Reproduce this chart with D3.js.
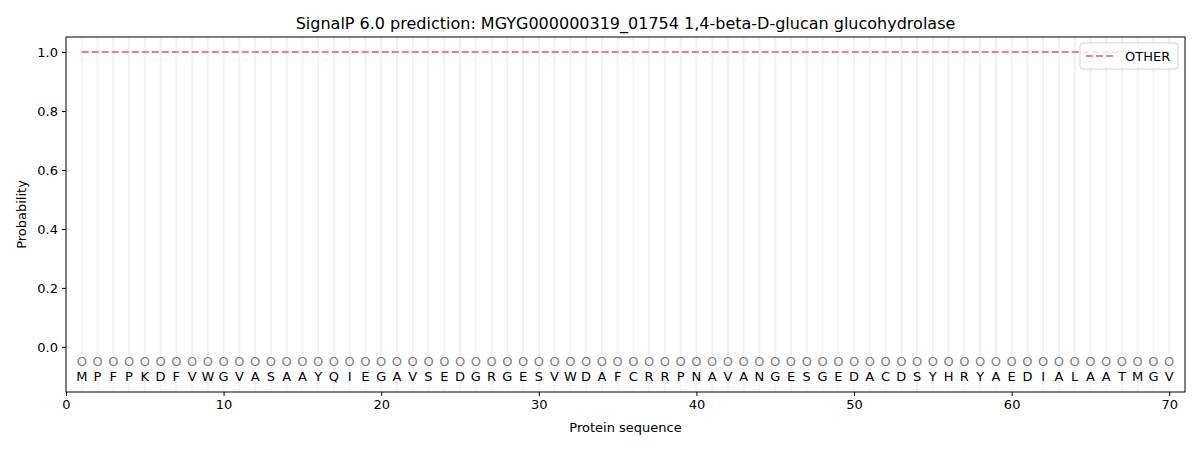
<!DOCTYPE html>
<html>
<head>
<meta charset="utf-8">
<script src="https://cdn.jsdelivr.net/npm/d3@7"></script>
<style>
  html, body { margin: 0; padding: 0; background: #fff; overflow: hidden; }
  svg { display: block; }
  text { font-family: "DejaVu Sans", sans-serif; }
</style>
</head>
<body>
<div id="chart"></div>
<script>
// sequence and per-residue probabilities
var sequence = ['M','P','F','P','K','D','F','V','W','G','V','A','S','A','A','Y','Q','I','E','G',
    'A','V','S','E','D','G','R','G','E','S','V','W','D','A','F','C','R','R','P','N',
    'A','V','A','N','G','E','S','G','E','D','A','C','D','S','Y','H','R','Y','A','E',
    'D','I','A','L','A','A','T','M','G','V']
var labels = sequence.map(function () { return 'O' })
var otherProb = sequence.map(function () { return 1.0 })
var xTicks = [0, 10, 20, 30, 40, 50, 60, 70]
var yTicks = [0.0, 0.2, 0.4, 0.6, 0.8, 1.0]

var width = 1200
var height = 450
var margin = { top: 37, bottom: 58, left: 66, right: 15 }
var innerWidth = width - margin.left - margin.right
var innerHeight = height - margin.top - margin.bottom

var svg = d3.select('#chart').append('svg').attr('width', width).attr('height', height)

var xScale = d3.scaleLinear().domain([0, sequence.length + 1]).range([0, innerWidth])
var yScale = d3.scaleLinear().domain([-0.153, 1.051]).range([innerHeight, 0])

const g = svg.append('g').attr('transform', `translate(${margin.left},${margin.top})`)

// vertical guide lines per residue
g.selectAll('.vline').data(sequence).join('line')
    .attr('class', 'vline')
    .attr('x1', (d, i) => xScale(i + 1)).attr('x2', (d, i) => xScale(i + 1))
    .attr('y1', 0).attr('y2', innerHeight)
    .attr('stroke', '#f2f2f2').attr('stroke-width', 2)

// OTHER line
var line = d3.line().x((d, i) => xScale(i + 1)).y(d => yScale(d))
g.append('path').datum(otherProb)
    .attr('d', line)
    .attr('fill', 'none')
    .attr('stroke', '#f08080')
    .attr('stroke-width', 2)
    .attr('stroke-dasharray', '7,3')

// state labels and residues
g.selectAll('.lab').data(labels).join('text')
    .attr('class', 'lab')
    .attr('x', (d, i) => xScale(i + 1)).attr('y', yScale(-0.05)).attr('dy', '0.36em')
    .attr('text-anchor', 'middle')
    .attr('font-size', 13).attr('fill', '#808080')
    .text(d => d)

g.selectAll('.res').data(sequence).join('text')
    .attr('class', 'res')
    .attr('x', (d, i) => xScale(i + 1)).attr('y', yScale(-0.1)).attr('dy', '0.36em')
    .attr('text-anchor', 'middle')
    .attr('font-size', 13).attr('fill', '#000')
    .text(d => d)

// axes
var xAxis = d3.axisBottom(xScale).tickValues(xTicks).tickSizeOuter(0).tickSize(4).tickPadding(4)
var yAxis = d3.axisLeft(yScale).tickValues(yTicks).tickSizeOuter(0).tickSize(4).tickPadding(4)
    .tickFormat(d3.format('.1f'))

var gx = g.append('g').attr('transform', `translate(0,${innerHeight})`).call(xAxis)
var gy = g.append('g').call(yAxis)
gx.select('.domain').remove()
gy.select('.domain').remove()
svg.selectAll('.tick text').attr('font-size', 13).attr('font-family', 'DejaVu Sans').attr('fill', '#000')
svg.selectAll('.tick line').attr('stroke', '#000')

g.append('rect').attr('x', 0).attr('y', 0).attr('width', innerWidth).attr('height', innerHeight)
    .attr('fill', 'none').attr('stroke', '#000').attr('stroke-width', 1)

// labels
svg.append('text').attr('x', margin.left + innerWidth / 2).attr('y', 29)
    .attr('text-anchor', 'middle').attr('font-size', 16)
    .text('SignalP 6.0 prediction: MGYG000000319_01754 1,4-beta-D-glucan glucohydrolase')
svg.append('text').attr('x', margin.left + innerWidth / 2).attr('y', 432)
    .attr('text-anchor', 'middle').attr('font-size', 13)
    .text('Protein sequence')
svg.append('text').attr('transform', `translate(26,${margin.top + innerHeight / 2}) rotate(-90)`)
    .attr('text-anchor', 'middle').attr('font-size', 13)
    .text('Probability')

// legend
var legend = svg.append('g').attr('transform', `translate(${margin.left + innerWidth - 105},${margin.top + 6})`)
legend.append('rect').attr('width', 98).attr('height', 26).attr('rx', 3)
    .attr('fill', 'rgba(255,255,255,0.8)').attr('stroke', '#d5d5d5')
legend.append('line').attr('x1', 6).attr('x2', 34).attr('y1', 13).attr('y2', 13)
    .attr('stroke', '#f08080').attr('stroke-width', 2).attr('stroke-dasharray', '7,3')
legend.append('text').attr('x', 45).attr('y', 13).attr('dy', '0.36em')
    .attr('font-size', 13).text('OTHER')
</script>
</body>
</html>
